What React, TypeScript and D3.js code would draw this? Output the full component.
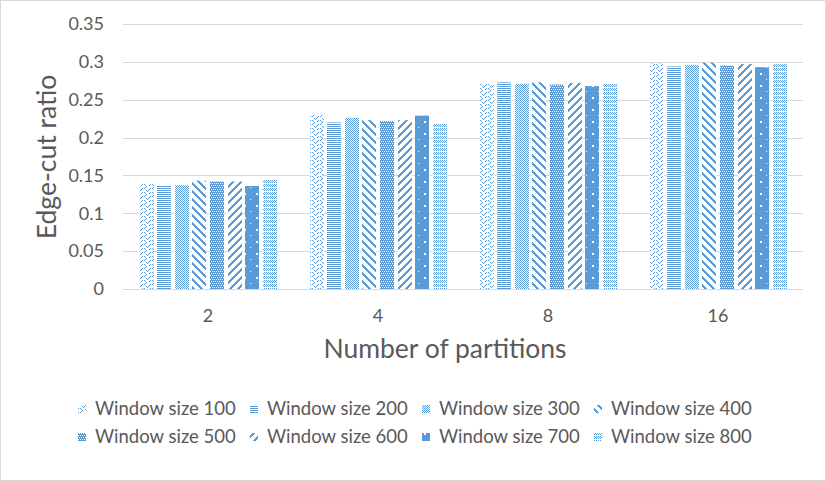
import {useEffect, useRef} from "react";
import * as d3 from "d3";

const categories = ["2", "4", "8", "16"];
const seriesNames = [
    "Window size 100", "Window size 200", "Window size 300", "Window size 400",
    "Window size 500", "Window size 600", "Window size 700", "Window size 800",
];
// values per series, one entry per category (2, 4, 8, 16)
const ws100 = [0.139, 0.230, 0.271, 0.298];
const ws200 = [0.137, 0.220, 0.273, 0.294];
const ws300 = [0.137, 0.226, 0.271, 0.296];
const ws400 = [0.143, 0.223, 0.273, 0.299];
const ws500 = [0.142, 0.222, 0.270, 0.295];
const ws600 = [0.142, 0.223, 0.272, 0.297];
const ws700 = [0.136, 0.229, 0.268, 0.293];
const ws800 = [0.144, 0.218, 0.271, 0.297];
const seriesValues = [ws100, ws200, ws300, ws400, ws500, ws600, ws700, ws800];
const yTicks = [0, 0.05, 0.1, 0.15, 0.2, 0.25, 0.3, 0.35];

const BLUE = "#5B9BD5";
const TEXT = "#595959";
const FONT = "Lato, 'Open Sans', sans-serif";

// 8x8 bitmaps for the fill patterns, 1 = blue (index 6 is drawn as solid with dots)
const patterns: string[][] = [
    ["10000010", "01000100", "00100000", "01000000", "10000010", "00000100", "00101000", "00010000"],
    ["11111111", "00000000", "11111111", "00000000", "11111111", "00000000", "11111111", "00000000"],
    ["10101010", "01010101", "10101010", "01010101", "10101010", "01010101", "10101010", "01010101"],
    ["11100000", "01110000", "00111000", "00011100", "00001110", "00000111", "10000011", "11000001"],
    ["11111111", "10101010", "11111111", "01010101", "11111111", "10101010", "11111111", "01010101"],
    ["00000111", "00001110", "00011100", "00111000", "01110000", "11100000", "11000001", "10000011"],
    [],
    ["10101010", "01010101", "10101010", "00000000", "10101010", "01010101", "10101010", "00000000"],
];

const App = () => {
    const ref = useRef<SVGSVGElement>(null);
    const W = 826, H = 481;

    useEffect(() => {
        const svg = d3.select(ref.current);
        svg.selectAll("*").remove();

        const defs = svg.append("defs");
        patterns.forEach((rows, i) => {
            const size = i === 6 ? 12 : 8;
            const p = defs.append("pattern").attr("id", `pat${i}`)
                .attr("patternUnits", "userSpaceOnUse").attr("width", size).attr("height", size);
            if (i === 6) {
                p.append("rect").attr("width", size).attr("height", size).attr("fill", BLUE);
                p.append("rect").attr("x", 4).attr("y", 1).attr("width", 2).attr("height", 2).attr("fill", "#fff");
                p.append("rect").attr("x", 10).attr("y", 7).attr("width", 1).attr("height", 1).attr("fill", "#fff");
                return;
            }
            p.append("rect").attr("width", size).attr("height", size).attr("fill", "#fff");
            rows.forEach((row, y) => {
                row.split("").forEach((c, x) => {
                    if (c === "1") p.append("rect").attr("x", x).attr("y", y).attr("width", 1).attr("height", 1).attr("fill", BLUE);
                });
            });
        });

        svg.append("rect").attr("x", 0.5).attr("y", 0.5).attr("width", W - 1).attr("height", H - 1)
            .attr("fill", "#fff").attr("stroke", "#D9D9D9");

        const x0 = d3.scaleBand().domain(categories).range([123, 803]);
        const x1 = d3.scaleBand().domain(seriesNames).range([16.5, 153.5]).paddingInner(0.22);
        const y = d3.scaleLinear().domain([0, 0.35]).range([289, 24]);

        svg.append("g").selectAll("line").data(yTicks).enter().append("line")
            .attr("x1", 123).attr("x2", 803)
            .attr("y1", d => Math.round(y(d)) + 0.5).attr("y2", d => Math.round(y(d)) + 0.5)
            .attr("stroke", "#D9D9D9").attr("stroke-width", 1);

        svg.append("g").selectAll("text").data(yTicks).enter().append("text")
            .attr("x", 104).attr("y", d => y(d)).attr("dy", "0.35em")
            .attr("text-anchor", "end").attr("font-family", FONT).attr("font-size", 18).attr("fill", TEXT)
            .text(d => d3.format("")(d));

        seriesNames.forEach((name, si) => {
            svg.append("g").selectAll("rect").data(seriesValues[si]).enter().append("rect")
                .attr("x", (d, ci) => Math.round(x0(categories[ci])! + x1(name)!))
                .attr("y", d => y(d))
                .attr("width", Math.round(x1.bandwidth()))
                .attr("height", d => y(0) - y(d))
                .attr("fill", `url(#pat${si})`);
        });

        svg.append("g").selectAll("text").data(categories).enter().append("text")
            .attr("x", d => x0(d)! + x0.bandwidth() / 2).attr("y", 322)
            .attr("text-anchor", "middle").attr("font-family", FONT).attr("font-size", 18).attr("fill", TEXT)
            .text(d => d);

        svg.append("text").attr("x", 445).attr("y", 358).attr("text-anchor", "middle")
            .attr("font-family", FONT).attr("font-size", 26.5).attr("fill", TEXT).text("Number of partitions");
        svg.append("text").attr("transform", "translate(56,157) rotate(-90)").attr("text-anchor", "middle")
            .attr("font-family", FONT).attr("font-size", 26.5).attr("fill", TEXT).text("Edge-cut ratio");

        const legend = svg.append("g");
        seriesNames.forEach((name, i) => {
            const lx = 78 + (i % 4) * 172;
            const ly = 409 + Math.floor(i / 4) * 28;
            legend.append("rect").attr("x", lx).attr("y", ly - 4).attr("width", 8).attr("height", 8)
                .attr("fill", `url(#pat${i})`);
            legend.append("text").attr("x", lx + 17).attr("y", ly).attr("dy", "0.35em")
                .attr("font-family", FONT).attr("font-size", 18.5).attr("fill", TEXT).text(name);
        });
    }, []);

    return <svg ref={ref} width={W} height={H} style={{position: "absolute", left: 0, top: 0}}/>;
};

export default App;
